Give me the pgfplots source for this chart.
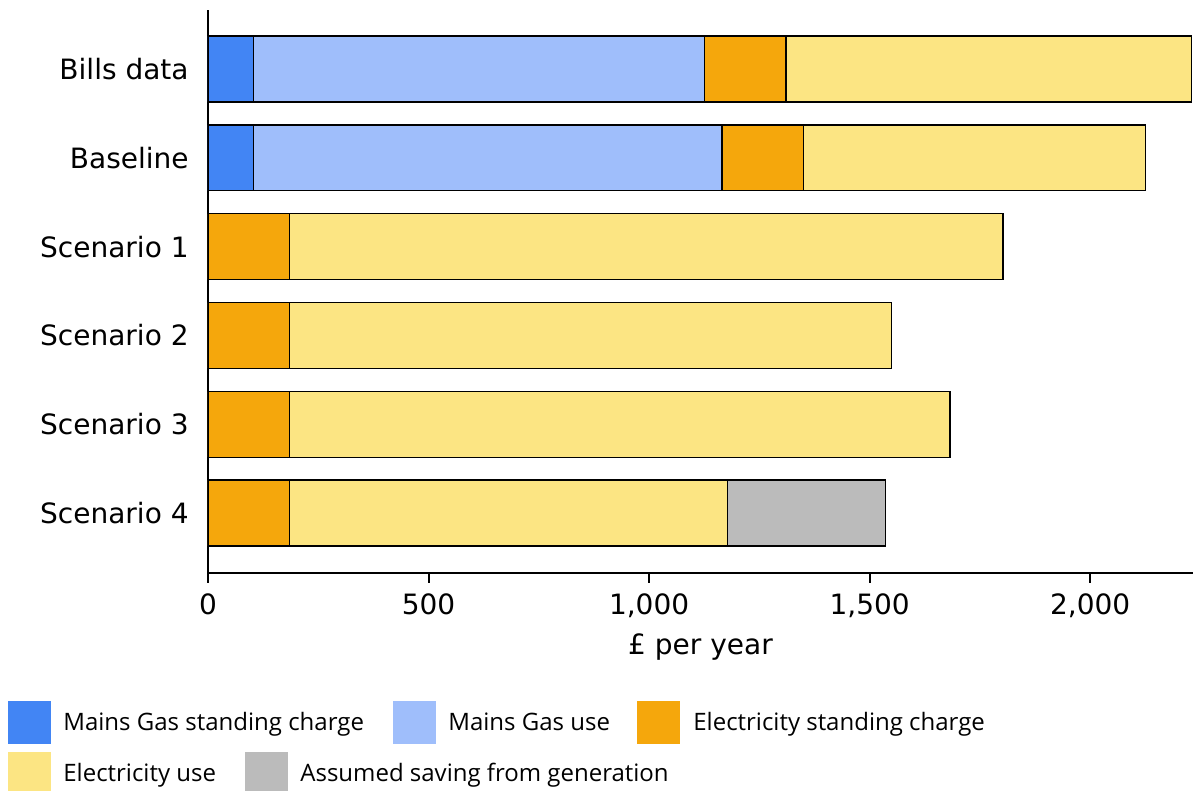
\documentclass[border=0pt]{standalone}
\usepackage{fontspec}
\setmainfont{DejaVu Sans}
\newfontfamily\legfont{Open Sans}
\usepackage{pgfplots}
\pgfplotsset{compat=1.18}
\definecolor{gassc}{HTML}{4285F4}
\definecolor{gasuse}{HTML}{9FBEFB}
\definecolor{elsc}{HTML}{F5A70C}
\definecolor{eluse}{HTML}{FCE583}
\definecolor{gen}{HTML}{BBBBBB}
\begin{document}
\begin{tikzpicture}
\useasboundingbox (-104pt,-109pt) rectangle (493.5pt,286.5pt);
\begin{axis}[
  at={(0,0)}, anchor=south west, scale only axis,
  width=492.5pt, height=281.5pt,
  xbar stacked, bar width=0.743,
  xmin=0, xmax=2233, ymin=-0.675, ymax=5.665,
  axis x line*=bottom, axis y line*=left,
  axis line style={line width=1pt},
  ytick={0,1,2,3,4,5},
  yticklabels={Scenario 4,Scenario 3,Scenario 2,Scenario 1,Baseline,Bills data},
  ytick style={draw=none},
  xtick={0,500,1000,1500,2000},
  xtick style={line width=1pt, black},
  tick align=outside, major tick length=5pt,
  scaled x ticks=false,
  /pgf/number format/.cd, 1000 sep={,}, assume math mode=true,
  /pgfplots/.cd,
  tick label style={font=\fontsize{14}{16}\selectfont},
  yticklabel style={inner sep=0pt, anchor=east, xshift=-4.5pt},
  xticklabel style={inner sep=0pt, anchor=base, yshift=-16pt},
  xlabel={£ per year},
  xlabel style={font=\fontsize{14}{16}\selectfont, inner sep=0pt, anchor=base, at={(axis description cs:0.5,0)}, yshift=-41pt},
  every axis plot/.append style={draw=black, line width=0.65pt},
]
\addplot[fill=gassc] coordinates {(0,0) (0,1) (0,2) (0,3) (103,4) (103,5)};
\addplot[fill=gasuse] coordinates {(0,0) (0,1) (0,2) (0,3) (1062,4) (1022,5)};
\addplot[fill=elsc] coordinates {(185,0) (185,1) (185,2) (185,3) (185,4) (185,5)};
\addplot[fill=eluse] coordinates {(993,0) (1497,1) (1365,2) (1617,3) (776,4) (919,5)};
\addplot[fill=gen] coordinates {(358,0) (0,1) (0,2) (0,3) (0,4) (0,5)};
\end{axis}
% legend
\begin{scope}[every node/.style={inner sep=0pt, font=\legfont\fontsize{12}{14}\selectfont, anchor=base west}]
\fill[gassc]  (-100pt,-85.5pt) rectangle ++(21.5pt,21.5pt);
\node at (-72.5pt,-79pt) {Mains Gas standing charge};
\fill[gasuse] (92.5pt,-85.5pt) rectangle ++(21.5pt,21.5pt);
\node at (120pt,-79pt) {Mains Gas use};
\fill[elsc]   (214.5pt,-85.5pt) rectangle ++(21.5pt,21.5pt);
\node at (242.5pt,-79pt) {Electricity standing charge};
\fill[eluse]  (-100pt,-111pt) rectangle ++(21.5pt,21.5pt);
\node at (-72.5pt,-104.3pt) {Electricity use};
\fill[gen]    (18.5pt,-111pt) rectangle ++(21.5pt,21.5pt);
\node at (46pt,-104.3pt) {Assumed saving from generation};
\end{scope}
\end{tikzpicture}
\end{document}
